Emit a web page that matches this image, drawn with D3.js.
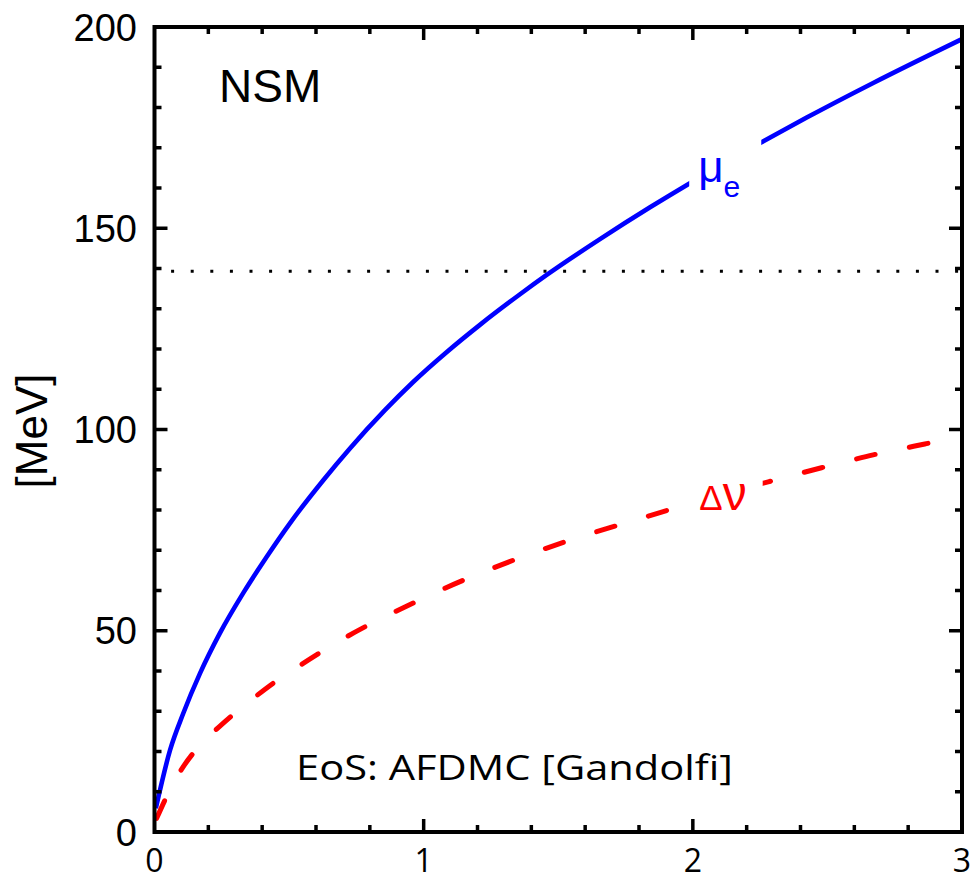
<!DOCTYPE html>
<html>
<head>
<meta charset="utf-8">
<script src="https://cdn.jsdelivr.net/npm/d3@7"></script>
<style>
  html, body { margin: 0; padding: 0; background: #fff; }
  svg { display: block; }
</style>
</head>
<body>
<svg id="chart" width="973" height="882"></svg>
<script>
// Axis ticks and labels
const xTickValues = [0, 1, 2, 3];
const xTickLabels = ["0", "1", "2", "3"];
const yTickValues = [0, 50, 100, 150, 200];
const yTickLabels = ["0", "50", "100", "150", "200"];

// Electron chemical potential (solid blue)
const muDensity = [0.005, 0.058, 0.107, 0.169, 0.243, 0.330, 0.417, 0.503, 0.627, 0.726, 0.856, 0.961,
                   1.085, 1.209, 1.358, 1.457, 1.655, 1.841, 1.989, 2.262, 2.423, 2.670, 3.0];
const muE = [5.9, 20.4, 29.5, 39.4, 49.4, 59.4, 68.4, 76.7, 87.4, 95.3, 104.8, 111.8,
             119.2, 126.0, 133.6, 138.4, 147.3, 155.2, 161.2, 171.6, 177.5, 186.1, 197.0];

// Neutron-proton potential difference (dashed red)
const nuDensity = [0.008, 0.045, 0.095, 0.144, 0.225, 0.280, 0.380, 0.448, 0.541, 0.621, 0.714, 0.794,
                   0.893, 0.974, 1.073, 1.259, 1.525, 1.816, 1.909, 2.008, 2.280, 2.392, 2.478,
                   2.584, 2.670, 2.782, 2.862, 2.967, 3.0];
const deltaNu = [3.4, 8.8, 15.0, 19.6, 25.2, 28.5, 33.9, 37.3, 41.4, 44.8, 48.5, 51.4,
                 54.7, 57.3, 60.4, 65.6, 72.1, 78.1, 80.0, 82.0, 87.0, 89.0, 90.5,
                 92.3, 93.7, 95.3, 96.4, 97.9, 98.4];

// Pion mass reference line [MeV]
const pionMass = 139.3;

const svg = d3.select("#chart");
const x = d3.scaleLinear().domain([0, 3]).range([154.5, 962]);
const y = d3.scaleLinear().domain([0, 200]).range([832, 27]);

const xMinor = d3.range(0, 3.0001, 0.2).map(v => +v.toFixed(2)).filter(v => !xTickValues.includes(v));
const yMinor = d3.range(0, 200.1, 10).filter(v => !yTickValues.includes(v));

// dotted pion line
svg.append("line")
  .attr("x1", x(0)).attr("x2", x(3))
  .attr("y1", y(pionMass)).attr("y2", y(pionMass))
  .attr("stroke", "#000").attr("stroke-width", 3)
  .attr("stroke-dasharray", "0 16.6 3 0");

const muLine = d3.line().x((d, i) => x(muDensity[i])).y(d => y(d)).curve(d3.curveMonotoneX);
const nuLine = d3.line().x((d, i) => x(nuDensity[i])).y(d => y(d)).curve(d3.curveMonotoneX);

svg.append("path").attr("d", muLine(muE))
  .attr("fill", "none").attr("stroke", "#0000ff").attr("stroke-width", 4.6)
  .attr("stroke-linejoin", "round");

svg.append("path").attr("d", nuLine(deltaNu))
  .attr("fill", "none").attr("stroke", "#ff0000").attr("stroke-width", 5)
  .attr("stroke-linecap", "round")
  .attr("stroke-dasharray", "19 35");

// curve labels with white backing
function curveLabel(px, py, build, pad) {
  const g = svg.append("g");
  const bg = g.append("rect").attr("fill", "#fff");
  const t = g.append("text").attr("x", px).attr("y", py)
    .attr("font-family", "'Liberation Sans', Arial, sans-serif");
  build(t);
  const b = t.node().getBBox();
  bg.attr("x", b.x - pad[0]).attr("y", b.y - pad[2])
    .attr("width", b.width + pad[0] + pad[1]).attr("height", b.height + pad[2] + pad[3]);
}

curveLabel(x(2.02), y(161.6), t => {
  t.attr("fill", "#0000ff").attr("font-size", 44);
  t.append("tspan").text("μ");
  t.append("tspan").attr("font-size", 30).attr("dy", 15).text("e");
}, [9, 21, 14, 0]);

curveLabel(x(2.024), y(80.0), t => {
  t.attr("fill", "#ff0000").attr("font-size", 35);
  t.append("tspan").text("Δ");
  t.append("tspan").attr("font-size", 48).text("ν");
}, [3, 16, 2, 0]);

// frame
svg.append("rect")
  .attr("x", x(0)).attr("y", y(200))
  .attr("width", x(3) - x(0)).attr("height", y(0) - y(200))
  .attr("fill", "none").attr("stroke", "#000").attr("stroke-width", 4);

const ticks = svg.append("g").attr("stroke", "#000").attr("stroke-width", 3.5);
function xTicks(vals, len) {
  vals.forEach(v => {
    ticks.append("line").attr("x1", x(v)).attr("x2", x(v)).attr("y1", y(0)).attr("y2", y(0) - len);
    ticks.append("line").attr("x1", x(v)).attr("x2", x(v)).attr("y1", y(200)).attr("y2", y(200) + len);
  });
}
function yTicks(vals, len) {
  vals.forEach(v => {
    ticks.append("line").attr("x1", x(0)).attr("x2", x(0) + len).attr("y1", y(v)).attr("y2", y(v));
    ticks.append("line").attr("x1", x(3)).attr("x2", x(3) - len).attr("y1", y(v)).attr("y2", y(v));
  });
}
xTicks(xTickValues.slice(1, -1), 13);
xTicks(xMinor, 7);
yTicks(yTickValues.slice(1, -1), 13);
yTicks(yMinor, 7);

// tick labels
svg.append("g").selectAll("text").data(xTickValues).join("text")
  .attr("x", d => x(d)).attr("y", 872)
  .attr("text-anchor", "middle")
  .attr("font-family", "'Open Sans', sans-serif").attr("font-size", 32)
  .text((d, i) => xTickLabels[i]);

svg.append("g").selectAll("text").data(yTickValues).join("text")
  .attr("x", 137).attr("y", d => y(d)).attr("dy", "0.36em")
  .attr("text-anchor", "end")
  .attr("font-family", "'Liberation Sans', Arial, sans-serif").attr("font-size", 38)
  .text((d, i) => yTickLabels[i]);

// axis title
svg.append("text")
  .attr("transform", "translate(47,431) rotate(-90)")
  .attr("text-anchor", "middle")
  .attr("font-family", "'Liberation Sans', Arial, sans-serif").attr("font-size", 44)
  .text("[MeV]");

// panel annotations
svg.append("text")
  .attr("x", 219).attr("y", 101.5)
  .attr("font-family", "'Liberation Sans', Arial, sans-serif").attr("font-size", 46)
  .text("NSM");

svg.append("text")
  .attr("x", 296).attr("y", 780)
  .attr("font-family", "'Open Sans', sans-serif").attr("font-size", 35)
  .attr("textLength", 437).attr("lengthAdjust", "spacingAndGlyphs")
  .text("EoS: AFDMC [Gandolfi]");
</script>
</body>
</html>
